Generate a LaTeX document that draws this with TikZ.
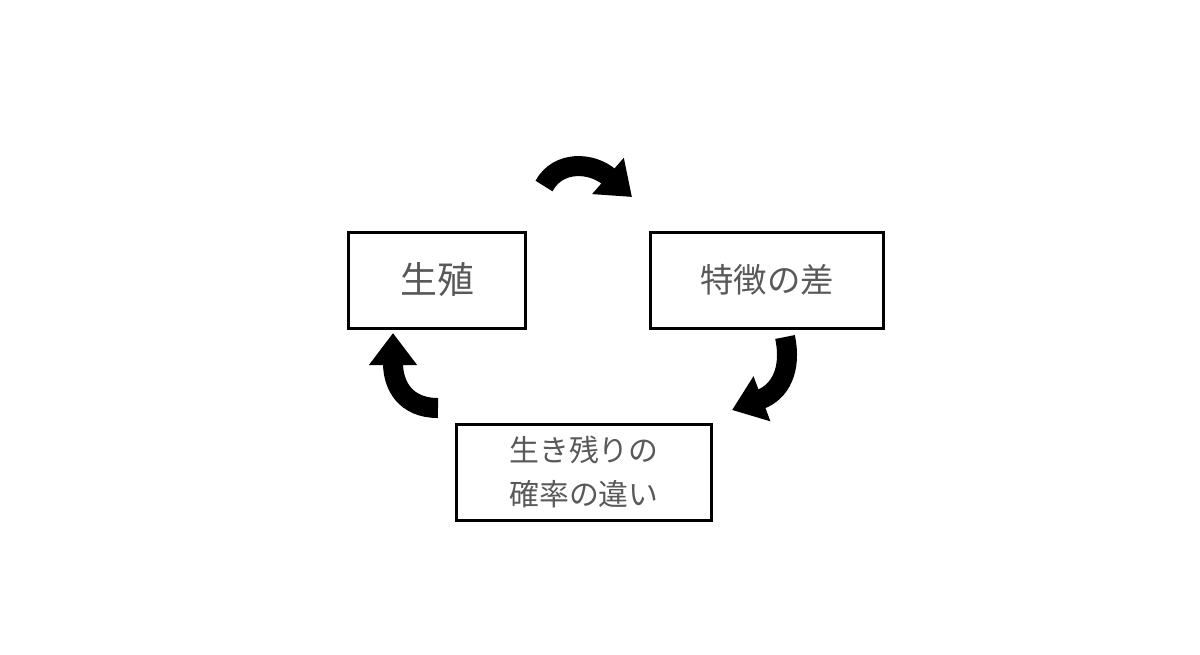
\documentclass[tikz,border=0pt]{standalone}
\usepackage{fontspec}
\newfontfamily\jpfont{Noto Sans CJK JP}
\usetikzlibrary{arrows.meta}
\definecolor{textgray}{RGB}{89,89,89}
\begin{document}
\begin{tikzpicture}[x=0.02cm, y=-0.02cm,
  box/.style={draw, line width=0.06cm, minimum height=1.92cm, inner sep=0pt, text=textgray, font=\jpfont, align=center},
  fat/.style={line width=0.4cm, -{Triangle[length=0.64cm, width=0.92cm]}}]
\useasboundingbox (0,0) rectangle (1200,654);
\node[box, minimum width=3.56cm, font=\jpfont\fontsize{21}{25}\selectfont] (Seishoku) at (437,280) {生殖};
\node[box, minimum width=4.68cm, font=\jpfont\fontsize{19}{25}\selectfont] (Tokucho) at (767,280) {特徴の差};
\node[box, minimum width=5.12cm, font=\jpfont\fontsize{17}{25}\selectfont] (Kakuritsu) at (584,472) {生き残りの\\確率の違い};

\coordinate (t1) at (544,186);
\coordinate (h1) at (632,197);
\coordinate (t2) at (785,337);
\coordinate (h2) at (732,410);
\coordinate (t3) at (438,408);
\coordinate (h3) at (393,333);

\draw[fat] (t1) .. controls (558,160) and (592,162) .. (h1);
\draw[fat] (t2) .. controls (792,370) and (780,392) .. (h2);
\draw[fat] (t3) .. controls (405,408) and (393,385) .. (h3);

\end{tikzpicture}
\end{document}
